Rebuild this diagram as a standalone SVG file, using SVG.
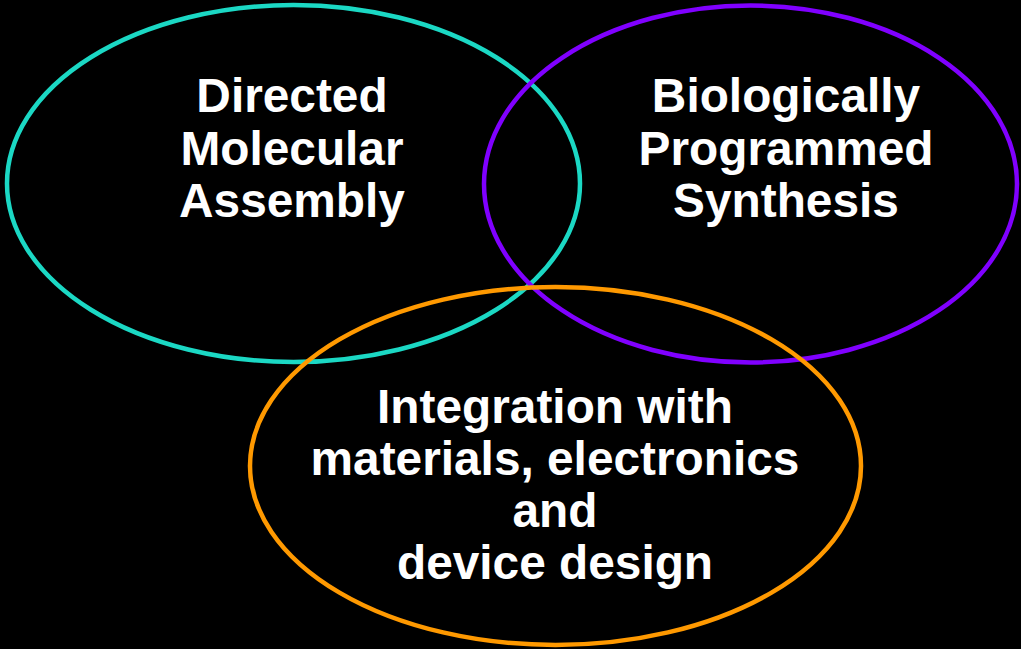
<svg xmlns="http://www.w3.org/2000/svg" width="1021" height="649" viewBox="0 0 1021 649">
<style>
.ring{fill:none;stroke-width:4.5}
.lbl{font-family:"Liberation Sans",Arial,sans-serif;font-weight:bold;font-size:47.8px;fill:#ffffff;text-anchor:middle}
</style>
<rect x="0" y="0" width="1021" height="649" fill="#000000"/>
<g id="node-directed">
<ellipse class="ring" cx="293.5" cy="183.5" rx="286.5" ry="178.5" stroke="#1bd8c4"/>
<text class="lbl" x="292" y="112">Directed</text>
<text class="lbl" x="292" y="164.5">Molecular</text>
<text class="lbl" x="292" y="217">Assembly</text>
</g>
<g id="node-biological">
<ellipse class="ring" cx="750.5" cy="184" rx="266.5" ry="178.5" stroke="#8000ff"/>
<text class="lbl" x="786" y="112">Biologically</text>
<text class="lbl" x="786" y="164.5">Programmed</text>
<text class="lbl" x="786" y="217">Synthesis</text>
</g>
<g id="node-integration">
<ellipse class="ring" cx="555.5" cy="466" rx="305.5" ry="179" stroke="#ff9900"/>
<text class="lbl" x="555" y="423">Integration with</text>
<text class="lbl" x="555" y="475">materials, electronics</text>
<text class="lbl" x="555" y="527">and</text>
<text class="lbl" x="555" y="579">device design</text>
</g>
<g id="connectors"/>
</svg>
